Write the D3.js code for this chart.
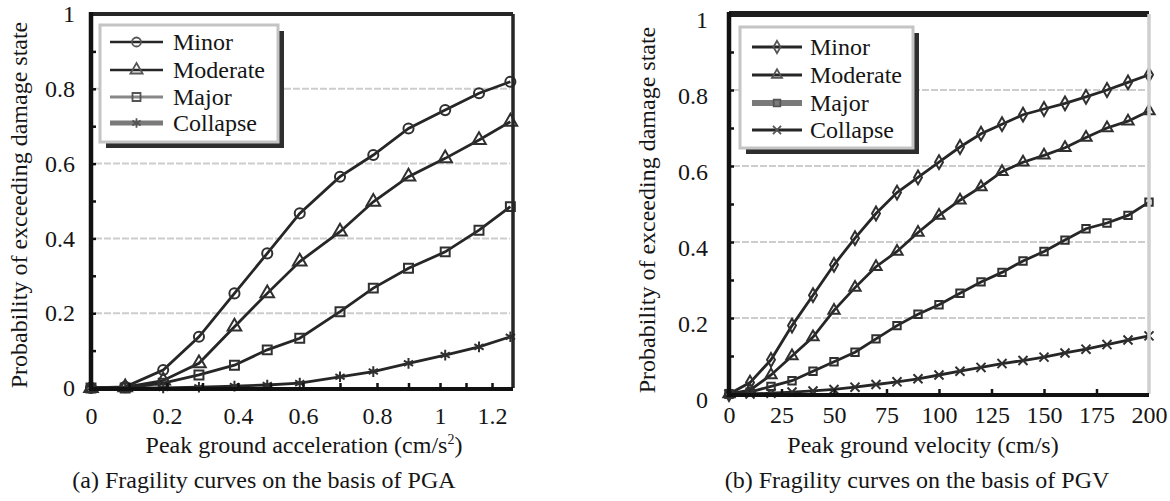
<!DOCTYPE html>
<html>
<head>
<meta charset="utf-8">
<script src="https://cdn.jsdelivr.net/npm/d3@7"></script>
<style>
  body { margin: 0; background: #fff; }
  svg text { font-family: "Liberation Serif", "Times New Roman", serif; fill: #151515; }
</style>
</head>
<body>
<svg id="chart" width="1170" height="501"></svg>
<script>
const seriesNames = ['Minor', 'Moderate', 'Major', 'Collapse'];
const probTicks = [0, 0.2, 0.4, 0.6, 0.8, 1];
const probMinorTicks = [0.1, 0.2, 0.3, 0.4, 0.5, 0.6, 0.7, 0.8, 0.9];
const probGrid = [0.2, 0.4, 0.6, 0.8];

// (a) PGA
const pgaTicks = [0, 0.2, 0.4, 0.6, 0.8, 1, 1.2];
const pgaMinorTicks = [0.1, 0.2, 0.3, 0.4, 0.5, 0.6, 0.7, 0.8, 0.9, 1, 1.1, 1.2];
const pgaX = [0, 0.09, 0.19, 0.29, 0.39, 0.49, 0.59, 0.7, 0.79, 0.9, 1.02, 1.15, 1.27];
const pgaMinor    = [0, 0.003, 0.048, 0.137, 0.253, 0.36, 0.467, 0.565, 0.623, 0.694, 0.743, 0.788, 0.819];
const pgaModerate = [0, 0.002, 0.02, 0.066, 0.164, 0.253, 0.338, 0.418, 0.498, 0.565, 0.614, 0.663, 0.712];
const pgaMajor    = [0, 0, 0.013, 0.035, 0.061, 0.102, 0.133, 0.204, 0.267, 0.32, 0.364, 0.422, 0.485];
const pgaCollapse = [0, 0, 0, 0.002, 0.005, 0.008, 0.013, 0.03, 0.044, 0.066, 0.088, 0.11, 0.137];

// (b) PGV
const pgvTicks = [0, 25, 50, 75, 100, 125, 150, 175, 200];
const pgvX = [0, 10, 20, 30, 40, 50, 60, 70, 80, 90, 100, 110, 120, 130, 140, 150, 160, 170, 180, 190, 200];
const pgvMinor    = [0, 0.03, 0.09, 0.18, 0.26, 0.34, 0.41, 0.475, 0.53, 0.57, 0.61, 0.65, 0.685, 0.71, 0.735, 0.75, 0.765, 0.782, 0.8, 0.82, 0.84];
const pgvModerate = [0, 0.01, 0.05, 0.1, 0.15, 0.22, 0.28, 0.335, 0.375, 0.425, 0.47, 0.51, 0.545, 0.585, 0.61, 0.628, 0.648, 0.675, 0.7, 0.718, 0.745];
const pgvMajor    = [0, 0.005, 0.02, 0.035, 0.06, 0.085, 0.11, 0.145, 0.18, 0.21, 0.235, 0.265, 0.295, 0.32, 0.35, 0.375, 0.405, 0.435, 0.45, 0.47, 0.505];
const pgvCollapse = [0, 0, 0.002, 0.005, 0.008, 0.012, 0.018, 0.025, 0.032, 0.04, 0.05, 0.06, 0.07, 0.08, 0.088, 0.097, 0.108, 0.118, 0.13, 0.142, 0.153];

const svg = d3.select('#chart');
svg.append('rect').attr('width', 1170).attr('height', 501).attr('fill', '#fff');

const ink = '#262626';

// the source figure's x labels are not evenly spaced, so the PGA scale is piecewise
const xPga = d3.scaleLinear()
  .domain([0, 0.2, 0.4, 0.6, 0.8, 1, 1.2, 1.28])
  .range([91, 167, 238, 303, 377, 440, 492, 513]);
const yPga = d3.scaleLinear().domain([0, 1]).range([388, 14]);

const xPgv = d3.scaleLinear().domain([0, 200]).range([729, 1149]);
const yPgv = d3.scaleLinear().domain([0, 1]).range([394, 14]);

const sym = (t, fb) => t || fb;

const panels = [
  {
    x: xPga, y: yPga, xs: pgaX, xEnd: 1.28,
    series: [pgaMinor, pgaModerate, pgaMajor, pgaCollapse],
    symbols: [d3.symbolCircle, d3.symbolTriangle, d3.symbolSquare, sym(d3.symbolAsterisk, d3.symbolCross)],
    symbolSize: 80,
    xTicks: pgaTicks, xMinor: pgaMinorTicks, yMinor: probMinorTicks,
    xPad: 19, yPad: 16, yLabelShift: 0,
    xTitle: 'Peak ground acceleration (cm/s', xSup: '2', xTitleX: 304,
    yTitleX: 27, yTitleY: 205,
    caption: '(a) Fragility curves on the basis of PGA', captionX: 264,
    legend: { x: 100, y: 25, w: 178, h: 117, rows: [42, 70, 97, 123], lx0: 110, lx1: 163, tx: 173,
      lines: [{ c: ink, w: 2.5 }, { c: ink, w: 2.5 }, { c: '#888', w: 3 }, { c: '#7a7a7a', w: 5 }] },
    topColor: ink, rightColor: ink, topW: 4
  },
  {
    x: xPgv, y: yPgv, xs: pgvX, xEnd: 200,
    series: [pgvMinor, pgvModerate, pgvMajor, pgvCollapse],
    symbols: [d3.symbolDiamond, d3.symbolTriangle, d3.symbolSquare, sym(d3.symbolTimes, d3.symbolCross)],
    symbolSize: 55,
    xTicks: pgvTicks, xMinor: pgvTicks.slice(1, -1), yMinor: probMinorTicks,
    xPad: 12, yPad: 21, yLabelShift: 6,
    xTitle: 'Peak ground velocity (cm/s)', xSup: null, xTitleX: 923,
    yTitleX: 655, yTitleY: 210,
    caption: '(b) Fragility curves on the basis of PGV', captionX: 917,
    legend: { x: 740, y: 27, w: 173, h: 121, rows: [47, 75, 103, 130], lx0: 752, lx1: 802, tx: 810,
      lines: [{ c: ink, w: 3 }, { c: ink, w: 3 }, { c: '#7a7a7a', w: 6 }, { c: ink, w: 3 }] },
    topColor: '#1e1e1e', rightColor: '#cfcfcf', topW: 6
  }
];

panels.forEach(drawPanel);

function drawPanel(p) {
  const g = svg.append('g');
  const x = p.x, y = p.y;
  const xl = x(0), xr = x(p.xEnd), yb = y(0), yt = y(1);

  /* Grid */
  g.append('g').selectAll('line').data(probGrid).join('line')
    .attr('x1', xl + 4).attr('x2', xr - 3)
    .attr('y1', d => y(d)).attr('y2', d => y(d))
    .attr('stroke', '#cdcdcd').attr('stroke-width', 2).attr('stroke-dasharray', '7,2');

  /* Curves */
  p.series.forEach((vals, k) => {
    const pts = vals.map((v, i) => [p.xs[i], v]);
    g.append('path').datum(pts)
      .attr('d', d3.line().x(d => x(d[0])).y(d => y(d[1])))
      .attr('fill', 'none').attr('stroke', ink).attr('stroke-width', 2.8);
    g.append('g').selectAll('path').data(pts).join('path')
      .attr('transform', d => `translate(${x(d[0])},${y(d[1])})`)
      .attr('d', d3.symbol(p.symbols[k], p.symbolSize))
      .attr('fill', 'none').attr('stroke', '#303030').attr('stroke-width', 2);
  });

  /* Axes */
  const yAxis = d3.axisLeft(y).tickValues(probTicks).tickSize(0).tickPadding(p.yPad).tickFormat(d3.format('~g'));
  const ya = g.append('g').attr('transform', `translate(${xl},0)`).call(yAxis);
  ya.select('.domain').remove();
  ya.selectAll('text').style('font-size', '24px').attr('transform', `translate(0,${p.yLabelShift})`);

  g.append('g').attr('transform', `translate(${xl},0)`)
    .call(d3.axisRight(y).tickValues(p.yMinor).tickSize(5).tickFormat(''))
    .call(a => a.select('.domain').remove())
    .selectAll('line').attr('stroke', '#111').attr('stroke-width', 2.5);

  const xAxis = d3.axisBottom(x).tickValues(p.xTicks).tickSize(0).tickPadding(p.xPad).tickFormat(d3.format('~g'));
  const xa = g.append('g').attr('transform', `translate(0,${yb})`).call(xAxis);
  xa.select('.domain').remove();
  xa.selectAll('text').style('font-size', '24px');

  g.append('g').attr('transform', `translate(0,${yb})`)
    .call(d3.axisTop(x).tickValues(p.xMinor).tickSize(5).tickFormat(''))
    .call(a => a.select('.domain').remove())
    .selectAll('line').attr('stroke', '#111').attr('stroke-width', 2.5);

  /* Frame */
  g.append('line').attr('x1', xl).attr('x2', xr).attr('y1', yt).attr('y2', yt)
    .attr('stroke', p.topColor).attr('stroke-width', p.topW);
  g.append('line').attr('x1', xr).attr('x2', xr).attr('y1', yt).attr('y2', yb)
    .attr('stroke', p.rightColor).attr('stroke-width', 3.5);
  g.append('line').attr('x1', xl).attr('x2', xr).attr('y1', yb + 1).attr('y2', yb + 1)
    .attr('stroke', '#111').attr('stroke-width', 4);
  g.append('line').attr('x1', xl).attr('x2', xl).attr('y1', yt - 2).attr('y2', yb + 3)
    .attr('stroke', '#111').attr('stroke-width', 4.5);

  /* Titles */
  const xt = g.append('text').attr('x', p.xTitleX).attr('y', 453)
    .attr('text-anchor', 'middle').style('font-size', '24px').text(p.xTitle);
  if (p.xSup) {
    xt.append('tspan').attr('dy', -9).style('font-size', '14px').text(p.xSup);
    xt.append('tspan').attr('dy', 9).text(')');
  }
  g.append('text')
    .attr('transform', `translate(${p.yTitleX},${p.yTitleY}) rotate(-90)`)
    .attr('text-anchor', 'middle').style('font-size', '24px')
    .text('Probability of exceeding damage state');
  g.append('text').attr('x', p.captionX).attr('y', 488)
    .attr('text-anchor', 'middle').style('font-size', '24px').text(p.caption);

  /* Legend */
  const L = p.legend;
  const lg = g.append('g');
  lg.append('rect').attr('x', L.x + 6).attr('y', L.y + 6).attr('width', L.w).attr('height', L.h).attr('fill', '#2e2e2e');
  lg.append('rect').attr('x', L.x).attr('y', L.y).attr('width', L.w).attr('height', L.h)
    .attr('fill', '#fff').attr('stroke', '#c4c4c4').attr('stroke-width', 3);
  seriesNames.forEach((name, k) => {
    const ry = L.rows[k];
    lg.append('line').attr('x1', L.lx0).attr('x2', L.lx1).attr('y1', ry).attr('y2', ry)
      .attr('stroke', L.lines[k].c).attr('stroke-width', L.lines[k].w);
    lg.append('path').attr('transform', `translate(${(L.lx0 + L.lx1) / 2},${ry})`)
      .attr('d', d3.symbol(p.symbols[k], p.symbolSize * 0.8))
      .attr('fill', 'none').attr('stroke', '#555').attr('stroke-width', 1.8);
    lg.append('text').attr('x', L.tx).attr('y', ry).attr('dy', '0.33em')
      .style('font-size', '24px').text(name);
  });
}
</script>
</body>
</html>
